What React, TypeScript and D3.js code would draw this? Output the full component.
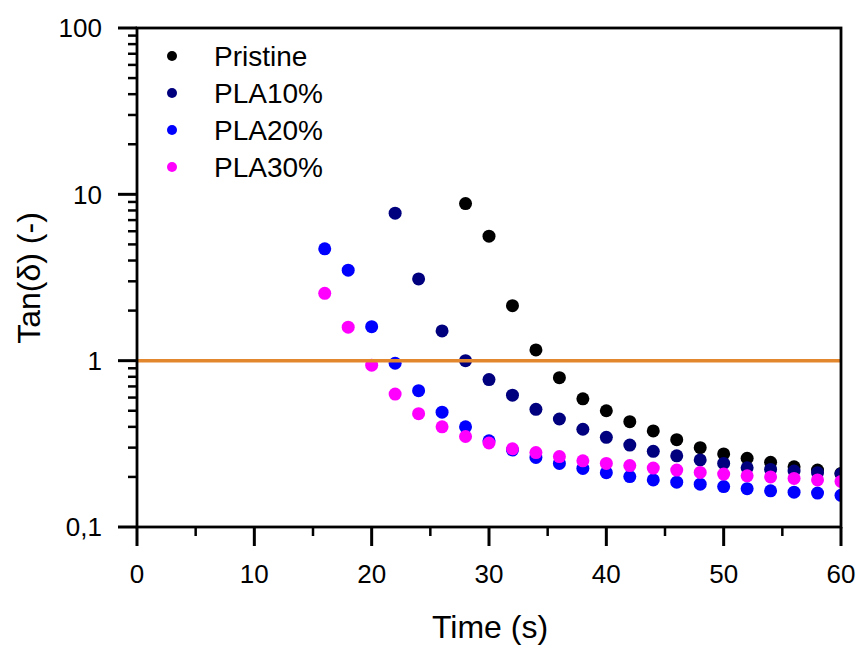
import React from "react";
import * as d3 from "d3";

const pristineTime = [28, 30, 32, 34, 36, 38, 40, 42, 44, 46, 48, 50, 52, 54, 56, 58, 60];
const pristine = [8.8, 5.6, 2.14, 1.16, 0.79, 0.59, 0.5, 0.43, 0.378, 0.335, 0.3, 0.275, 0.259, 0.245, 0.23, 0.22, 0.21];

const pla10Time = [22, 24, 26, 28, 30, 32, 34, 36, 38, 40, 42, 44, 46, 48, 50, 52, 54, 56, 58, 60];
const pla10 = [7.7, 3.1, 1.51, 1.0, 0.77, 0.62, 0.51, 0.446, 0.387, 0.346, 0.311, 0.285, 0.268, 0.253, 0.241, 0.227, 0.222, 0.217, 0.212, 0.208];

const pla20Time = [16, 18, 20, 22, 24, 26, 28, 30, 32, 34, 36, 38, 40, 42, 44, 46, 48, 50, 52, 54, 56, 58, 60];
const pla20 = [4.7, 3.5, 1.6, 0.965, 0.66, 0.49, 0.4, 0.33, 0.29, 0.262, 0.241, 0.225, 0.212, 0.201, 0.192, 0.186, 0.181, 0.175, 0.17, 0.165, 0.162, 0.16, 0.155];

const pla30Time = [16, 18, 20, 22, 24, 26, 28, 30, 32, 34, 36, 38, 40, 42, 44, 46, 48, 50, 52, 54, 56, 58, 60];
const pla30 = [2.54, 1.59, 0.94, 0.63, 0.48, 0.4, 0.35, 0.32, 0.295, 0.28, 0.265, 0.25, 0.241, 0.234, 0.226, 0.22, 0.213, 0.208, 0.203, 0.2, 0.196, 0.192, 0.188];

const seriesNames = ["Pristine", "PLA10%", "PLA20%", "PLA30%"];
const seriesColors = ["#000000", "#00007F", "#0000FF", "#FF00FF"];

const xTicks = [0, 10, 20, 30, 40, 50, 60];
const xMinorTicks = [5, 15, 25, 35, 45, 55];
const yTicks = [0.1, 1, 10, 100];
const yTickLabels = ["0,1", "1", "10", "100"];
const thresholdValue = 1;

const W = 863;
const H = 647;
const left = 137;
const right = 841;
const top = 28;
const bottom = 527;
const FONT = "'Liberation Sans', Arial, sans-serif";

export default function App() {
  const x = d3.scaleLinear().domain([0, 60]).range([left, right]);
  const y = d3.scaleLog().domain([0.1, 100]).range([bottom, top]);

  const series = [
    { name: seriesNames[0], color: seriesColors[0], t: pristineTime, v: pristine },
    { name: seriesNames[1], color: seriesColors[1], t: pla10Time, v: pla10 },
    { name: seriesNames[2], color: seriesColors[2], t: pla20Time, v: pla20 },
    { name: seriesNames[3], color: seriesColors[3], t: pla30Time, v: pla30 },
  ];

  const minorY: number[] = [];
  for (let d = 0.1; d < 100; d *= 10) {
    for (let k = 2; k <= 9; k++) minorY.push(+(d * k).toPrecision(3));
  }

  return (
    <svg
      width={W}
      height={H}
      style={{ position: "absolute", left: 0, top: 0, background: "#fff" }}
      fontFamily={FONT}
    >
      <defs>
        <clipPath id="plot">
          <rect x={left} y={top} width={right - left} height={bottom - top} />
        </clipPath>
      </defs>
      <rect x={0} y={0} width={W} height={H} fill="#fff" />

      <g clipPath="url(#plot)">
        {series.map((s) =>
          s.t.map((t, i) => (
            <circle key={s.name + t} cx={x(t)} cy={y(s.v[i])} r={6.5} fill={s.color} />
          ))
        )}
      </g>

      <line
        x1={left}
        x2={right}
        y1={y(thresholdValue)}
        y2={y(thresholdValue)}
        stroke="#E3872F"
        strokeWidth={3.5}
      />

      {/* frame */}
      <rect x={left} y={top} width={right - left} height={bottom - top} fill="none" stroke="#000" strokeWidth={2.8} />

      {/* x ticks */}
      {xTicks.map((t) => (
        <g key={"xt" + t}>
          <line x1={x(t)} x2={x(t)} y1={bottom} y2={bottom + 19} stroke="#000" strokeWidth={3} />
          <text x={x(t)} y={583} fontSize={26} textAnchor="middle" fill="#000">
            {t}
          </text>
        </g>
      ))}
      {xMinorTicks.map((t) => (
        <line key={"xm" + t} x1={x(t)} x2={x(t)} y1={bottom} y2={bottom + 9} stroke="#000" strokeWidth={2.5} />
      ))}

      {/* y ticks */}
      {yTicks.map((t, i) => (
        <g key={"yt" + t}>
          <line x1={left - 19} x2={left} y1={y(t)} y2={y(t)} stroke="#000" strokeWidth={3} />
          <text x={102} y={y(t)} dy="0.36em" fontSize={26} textAnchor="end" fill="#000">
            {yTickLabels[i]}
          </text>
        </g>
      ))}
      {minorY.map((t) => (
        <line key={"ym" + t} x1={left - 9} x2={left} y1={y(t)} y2={y(t)} stroke="#000" strokeWidth={2.5} />
      ))}

      {/* axis titles */}
      <text x={490} y={638} fontSize={32} textAnchor="middle" fill="#000">
        Time (s)
      </text>
      <text
        transform={`translate(40, 278) rotate(-90)`}
        fontSize={32}
        textAnchor="middle"
        fill="#000"
      >
        Tan(δ) (-)
      </text>

      {/* legend */}
      {series.map((s, i) => (
        <g key={"lg" + s.name} transform={`translate(172, ${56 + i * 37})`}>
          <circle cx={0} cy={0} r={5} fill={s.color} />
          <text x={42} y={0} dy="0.35em" fontSize={28} fill="#000">
            {s.name}
          </text>
        </g>
      ))}
    </svg>
  );
}
